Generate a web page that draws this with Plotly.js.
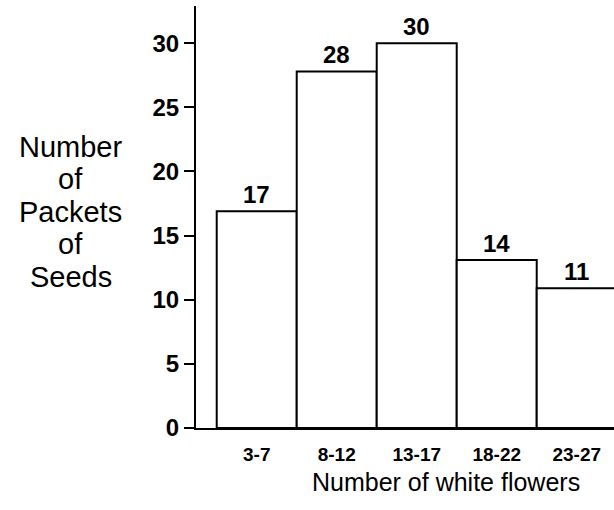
<!DOCTYPE html>
<html>
<head>
<meta charset="utf-8">
<script src="https://cdn.plot.ly/plotly-3.0.1.min.js"></script>
<style>html,body{margin:0;padding:0;background:#fff;}#chart{width:614px;height:510px;}</style>
</head>
<body>
<div id="chart"></div>
<script>
const categories = ['3-7', '8-12', '13-17', '18-22', '23-27'];
const counts = [16.9, 27.8, 30, 13.1, 10.9];
const countLabels = ['17', '28', '30', '14', '11'];
const yTicks = [0, 5, 10, 15, 20, 25, 30];
const xTitle = 'Number of white flowers';
const yTitleLines = ['Number', 'of', 'Packets', 'of', 'Seeds'];

const FONT = 'Liberation Sans, Arial, Helvetica, sans-serif';

const trace = {
  type: 'bar',
  x: categories,
  y: counts,
  width: 1,
  marker: { color: '#ffffff', line: { color: '#000000', width: 2 } },
  hoverinfo: 'none'
};

const annotations = categories.map((c, i) => ({
  x: c, y: counts[i], xref: 'x', yref: 'y',
  text: countLabels[i], showarrow: false,
  yanchor: 'bottom', yshift: 1,
  font: { family: FONT, size: 24, color: '#000', weight: 'bold' }
}));

// y-axis title: stacked horizontal lines left of the axis
const plotH = 510 - 6 - 82;
const lineStep = 32.5 / plotH;
yTitleLines.forEach((t, i) => {
  annotations.push({
    xref: 'paper', yref: 'paper', x: -0.30,
    y: 0.667 - i * lineStep,
    xanchor: 'center', yanchor: 'middle',
    text: t, showarrow: false,
    font: { family: FONT, size: 29, color: '#000' }
  });
});

annotations.push({
  xref: 'paper', yref: 'paper', x: 0.598, y: -0.128,
  xanchor: 'center', yanchor: 'middle',
  text: xTitle, showarrow: false,
  font: { family: FONT, size: 25, color: '#000' }
});

const layout = {
  width: 614, height: 510,
  margin: { l: 196, r: 0, t: 6, b: 82 },
  paper_bgcolor: '#fff', plot_bgcolor: '#fff',
  showlegend: false,
  bargap: 0,
  xaxis: {
    type: 'category',
    range: [-0.759, 4.466],
    showline: true, linecolor: '#000', linewidth: 2,
    showgrid: false, zeroline: false,
    ticks: '', ticklabelstandoff: 8,
    tickfont: { family: FONT, size: 19, color: '#000', weight: 'bold' },
    fixedrange: true
  },
  yaxis: {
    range: [0, 32.9],
    tickvals: yTicks,
    showline: true, linecolor: '#000', linewidth: 2,
    showgrid: false, zeroline: false,
    ticks: 'outside', ticklen: 10, tickwidth: 2, tickcolor: '#000',
    tickfont: { family: FONT, size: 24, color: '#000', weight: 'bold' },
    fixedrange: true
  },
  annotations: annotations
};

Plotly.newPlot('chart', [trace], layout, { displayModeBar: false, staticPlot: true });
</script>
</body>
</html>
